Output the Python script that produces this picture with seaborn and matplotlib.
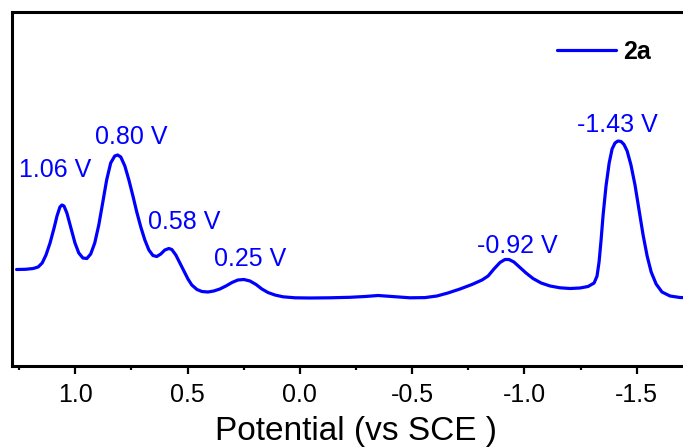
import matplotlib
matplotlib.use("Agg")
import matplotlib.pyplot as plt
from matplotlib.ticker import MultipleLocator
import seaborn as sns
import pandas as pd

# Potential (V vs SCE) and current (arbitrary units)
potential = [1.261, 1.221, 1.187, 1.165, 1.147, 1.130, 1.112, 1.094, 1.081, 1.068,
             1.059, 1.050, 1.037, 1.019, 1.001, 0.984, 0.966, 0.948, 0.931, 0.913,
             0.895, 0.877, 0.860, 0.842, 0.824, 0.811, 0.797, 0.779, 0.761, 0.743,
             0.726, 0.708, 0.690, 0.672, 0.654, 0.637, 0.619, 0.601, 0.583, 0.570,
             0.552, 0.534, 0.516, 0.498, 0.481, 0.458, 0.436, 0.409, 0.383, 0.356,
             0.329, 0.302, 0.276, 0.249, 0.222, 0.195, 0.169, 0.142, 0.111, 0.075,
             0.022, -0.045, -0.134, -0.223, -0.290, -0.348, -0.410, -0.490, -0.557, -0.610,
             -0.659, -0.713, -0.766, -0.811, -0.838, -0.864, -0.891, -0.913, -0.931, -0.953,
             -0.980, -1.007, -1.038, -1.074, -1.114, -1.158, -1.203, -1.247, -1.283, -1.310,
             -1.323, -1.332, -1.341, -1.350, -1.363, -1.377, -1.390, -1.403, -1.416, -1.430,
             -1.443, -1.457, -1.474, -1.492, -1.510, -1.528, -1.546, -1.564, -1.586, -1.612,
             -1.648, -1.692, -1.759]
current = [96.5, 96.7, 97.5, 99, 103, 111, 123, 138, 150, 159,
           161, 160, 153, 138, 123, 113, 108, 107.5, 112, 123,
           141, 164, 186, 203, 210, 211, 209, 200, 186, 170,
           154, 139, 126, 116, 110.5, 109.5, 112, 116, 117.5, 116.5,
           111, 103, 95, 87, 81, 76.5, 74.5, 74, 75, 77,
           80, 83.5, 86, 86.5, 85, 81.5, 77, 73.5, 71, 69.2,
           68.2, 68, 68.2, 68.7, 69.5, 70.5, 69.5, 68.2, 68.4, 70,
           73, 77, 81.5, 86, 90, 97, 103.5, 106.5, 106.5, 104,
           98.5, 93, 87.5, 83, 80, 78.2, 77.5, 78, 79.5, 83,
           90, 104, 126, 151, 180, 203, 217, 223, 225, 224.5,
           221.5, 215, 201, 181, 156, 131, 110, 94, 82, 74,
           70, 68.5, 68]

series_name = "2a"
peak_labels = ["1.06 V", "0.80 V", "0.58 V", "0.25 V", "-0.92 V", "-1.43 V"]
label_x = [1.090, 0.750, 0.516, 0.222, -0.967, -1.414]
label_y = [189, 222, 136.7, 100, 113.3, 234.3]

df = pd.DataFrame({"Potential": potential, "Current": current, "Sample": series_name})

sns.set_style("ticks")
plt.rcParams["font.family"] = ["Liberation Sans", "DejaVu Sans"]
plt.rcParams["axes.unicode_minus"] = False
plt.rcParams["text.color"] = "black"
plt.rcParams["axes.labelcolor"] = "black"
plt.rcParams["xtick.color"] = "black"
plt.rcParams["xtick.labelcolor"] = "black"

fig = plt.figure(figsize=(6.83, 4.48), dpi=100)
ax = fig.add_axes([12.3 / 683, 82 / 448, (699.7 - 12.3) / 683, 354 / 448])

sns.lineplot(data=df, x="Potential", y="Current", hue="Sample", palette=["#0000FF"],
             sort=False, linewidth=2.3, ax=ax)

ax.set_xlim(1.28, -1.78)
ax.set_ylim(0, 354)
ax.xaxis.set_major_locator(MultipleLocator(0.5))
ax.xaxis.set_minor_locator(MultipleLocator(0.25))
ax.xaxis.set_major_formatter(matplotlib.ticker.FormatStrFormatter("%.1f"))
ax.set_yticks([])
ax.set_ylabel("")

for s in ax.spines.values():
    s.set_linewidth(2.2)
    s.set_color("black")

ax.tick_params(axis="x", which="major", length=6, width=1.6, labelsize=18, pad=6,
               direction="out", colors="black", labelcolor="black")
ax.tick_params(axis="x", which="minor", length=3, width=1.6, direction="out",
               colors="black")
ax.set_xlabel("Potential (vs SCE )", fontsize=24, labelpad=7, color="black")

for txt, lx, ly in zip(peak_labels, label_x, label_y):
    ax.text(lx, ly, txt, color="#0000FF", fontsize=18, ha="center", va="baseline")

leg = ax.legend(loc="center left", bbox_to_anchor=(557 / 683, 1 - 52 / 448),
                bbox_transform=fig.transFigure, frameon=False,
                prop={"weight": "bold", "size": 18}, handlelength=2.35,
                handletextpad=0.3, borderpad=0, borderaxespad=0)
for line in leg.get_lines():
    line.set_linewidth(2.3)
for t in leg.get_texts():
    t.set_color("black")

fig.savefig("out.png", dpi=100)
